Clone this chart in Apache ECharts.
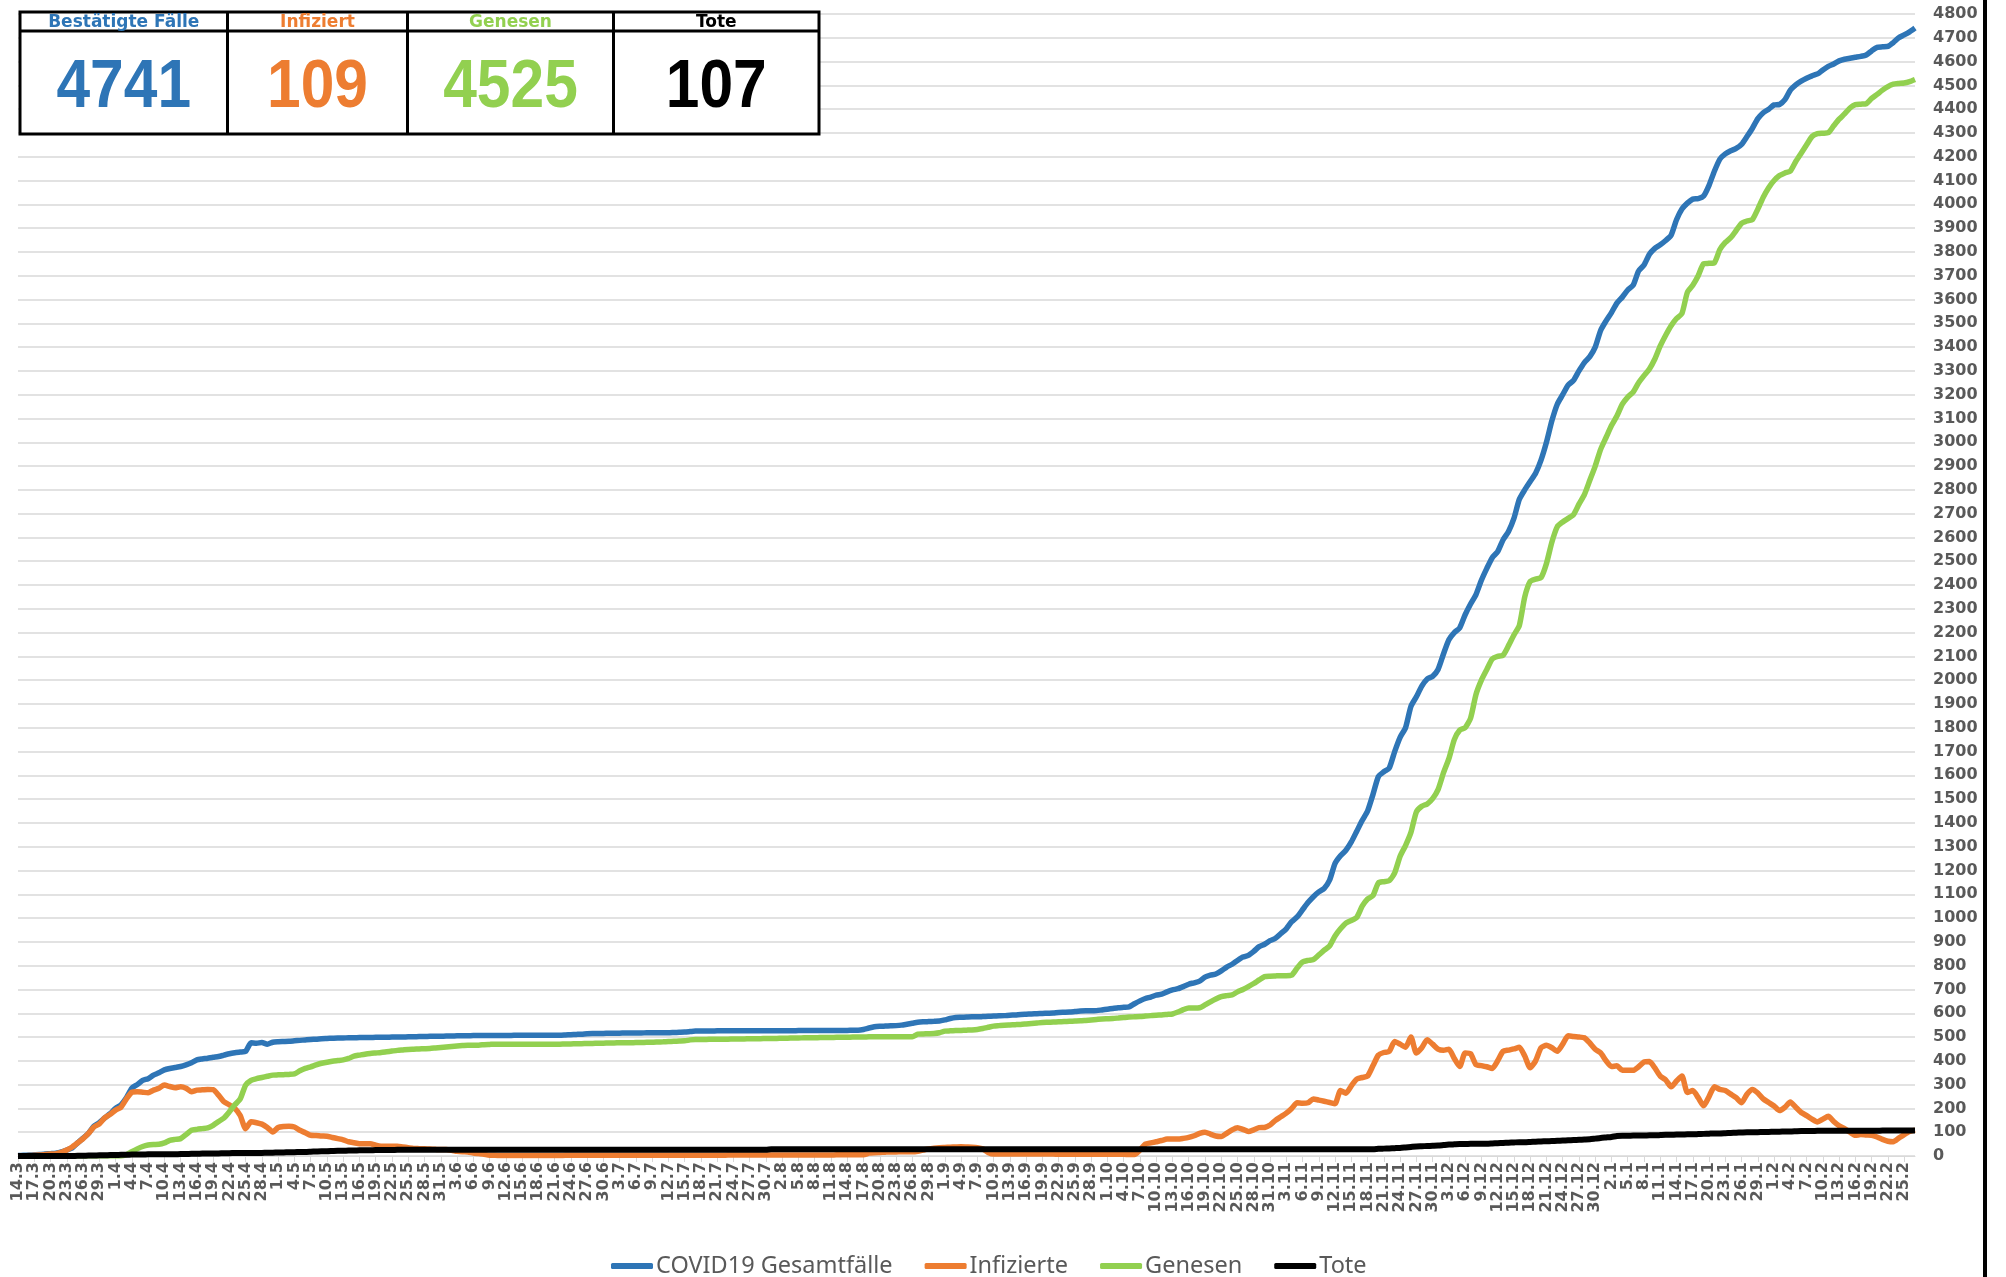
<!DOCTYPE html>
<html>
<head>
<meta charset="utf-8">
<script src="https://cdn.jsdelivr.net/npm/echarts@6/dist/echarts.min.js"></script>
<style>
html,body{margin:0;padding:0;background:#fff;}
#chart{width:2006px;height:1277px;}
</style>
</head>
<body>
<div id="chart"></div>
<script>
// ---- categories (daily from 14.3.2020 to 27.2.2021) ----
const startDate = [2020, 3, 14];
const dayCount = 351;
const categories = [];
(function(){
  const d = new Date(Date.UTC(startDate[0], startDate[1]-1, startDate[2]));
  for (let i = 0; i < dayCount; i++) {
    categories.push(d.getUTCDate() + '.' + (d.getUTCMonth()+1));
    d.setUTCDate(d.getUTCDate()+1);
  }
})();

const seriesNames = ['COVID19 Gesamtfälle', 'Infizierte', 'Genesen', 'Tote'];
const tableHeaders = ['Bestätigte Fälle', 'Infiziert', 'Genesen', 'Tote'];
const tableValues = ['4741', '109', '4525', '107'];

const gesamt = [
2,3,4,5,6,8,10,12,17,25,
34,55,75,95,125,140,160,178,200,215,
245,285,300,318,325,340,350,362,368,372,
376,383,392,404,408,411,415,418,424,430,
434,437,440,476,474,477,470,478,480,481,
482,484,486,488,490,491,493,494,495,496,
496,497,497,498,498,498,499,499,499,500,
500,500,501,501,502,502,503,503,503,504,
504,505,505,505,506,506,506,507,507,507,
507,507,508,508,508,508,508,508,508,508,
508,509,510,511,512,514,515,515,515,516,
516,516,517,517,517,517,518,518,518,518,
518,519,520,521,523,525,525,525,525,526,
526,526,526,526,526,526,526,526,526,526,
526,526,526,526,527,527,527,527,527,527,
527,527,528,528,529,529,532,538,543,545,
546,547,548,550,554,558,562,564,565,566,
567,572,578,582,583,584,585,585,586,587,
588,589,590,592,593,595,596,597,598,599,
600,601,603,604,605,607,609,610,610,611,
614,617,620,623,625,627,640,652,662,668,
676,680,690,698,703,712,722,728,735,752,
760,765,778,794,806,822,836,843,860,880,
890,905,915,935,955,985,1005,1035,1065,1090,
1110,1125,1160,1230,1262,1285,1320,1365,1410,1450,
1520,1595,1615,1631,1700,1760,1800,1890,1930,1975,
2005,2016,2045,2110,2170,2200,2220,2275,2320,2360,
2420,2470,2515,2540,2590,2625,2680,2760,2800,2835,
2870,2925,3000,3090,3160,3200,3240,3260,3300,3335,
3360,3400,3470,3510,3545,3585,3610,3640,3660,3720,
3745,3790,3815,3830,3848,3870,3935,3980,4005,4022,
4024,4035,4080,4140,4190,4212,4225,4235,4252,4285,
4320,4360,4385,4400,4418,4420,4440,4480,4502,4518,
4530,4540,4548,4565,4580,4590,4603,4610,4614,4618,
4622,4628,4645,4660,4662,4664,4680,4700,4712,4725,
4741];

const infizierte = [
0,1,2,3,4,6,8,10,15,25,
38,55,73,95,122,135,160,175,193,205,
240,268,270,268,266,277,285,298,292,287,
291,285,270,277,278,280,279,256,228,215,
200,170,115,144,140,134,120,101,120,124,
125,122,108,98,87,86,84,83,78,73,
68,60,56,52,52,52,45,41,41,41,
41,38,35,32,31,30,29,28,27,27,
24,20,18,17,13,10,7,3,3,2,
2,2,2,2,2,2,2,2,2,2,
2,3,3,3,3,3,3,3,3,3,
3,3,3,3,3,3,3,3,3,3,
3,3,3,3,3,3,3,3,3,3,
3,4,4,4,4,4,4,4,4,4,
4,4,4,4,4,4,4,4,4,4,
4,5,5,5,5,5,5,12,14,15,
16,17,17,18,18,18,20,25,30,33,
35,36,37,38,39,38,37,35,30,15,
8,8,8,8,8,8,8,8,8,8,
8,8,7,7,7,7,7,7,7,7,
7,7,7,7,7,6,6,25,50,55,
60,65,71,71,71,74,78,85,95,100,
92,84,82,95,110,119,112,103,110,119,
120,130,150,165,180,200,224,222,224,240,
235,230,225,220,275,264,295,323,330,336,
380,424,435,440,481,470,457,500,433,455,
489,470,449,444,449,410,376,433,430,384,
380,375,368,400,440,445,450,457,420,371,
400,455,465,455,440,470,505,502,500,497,
475,449,433,400,376,379,360,360,360,375,
395,397,370,336,320,291,315,336,267,275,
245,211,250,291,280,275,260,245,224,260,
280,265,240,225,210,191,205,227,205,183,
170,155,143,155,167,145,127,115,100,87,
90,88,87,80,70,62,60,75,90,103,
109];

const genesen = [
0,0,0,0,0,0,0,0,0,0,
0,0,0,0,0,0,0,0,0,0,
5,18,30,40,46,48,49,55,66,70,
73,90,108,112,115,118,129,145,160,186,
215,240,298,318,325,330,335,340,341,342,
343,345,358,368,375,383,390,394,398,401,
404,410,420,424,428,431,433,435,438,441,
444,446,448,449,450,451,452,454,456,458,
460,462,464,466,466,466,468,469,470,470,
470,470,470,470,470,470,470,470,470,470,
470,471,471,472,472,473,473,474,474,475,
475,476,476,476,477,477,478,478,479,480,
481,482,483,484,488,490,490,490,491,491,
491,491,492,492,492,493,493,493,494,494,
494,495,495,496,496,497,497,497,498,498,
498,499,499,499,500,500,500,501,501,501,
501,501,501,501,501,501,512,513,514,515,
518,525,526,527,528,529,530,532,536,541,
546,548,550,551,552,553,555,557,559,561,
562,563,564,565,566,567,568,570,572,574,
576,577,578,580,582,584,585,586,588,590,
592,593,595,597,605,615,622,622,623,635,
648,660,670,674,677,690,700,712,725,740,
754,756,757,758,758,760,790,815,822,826,
845,865,883,925,955,979,990,1003,1050,1080,
1095,1148,1153,1157,1190,1260,1305,1360,1446,1470,
1480,1502,1540,1610,1670,1750,1790,1800,1840,1940,
2000,2045,2089,2100,2105,2145,2190,2230,2350,2415,
2425,2431,2490,2580,2645,2665,2680,2696,2740,2780,
2840,2900,2970,3020,3070,3110,3160,3190,3211,3250,
3280,3308,3350,3405,3450,3490,3520,3541,3630,3660,
3700,3750,3752,3755,3810,3840,3860,3890,3920,3930,
3936,3980,4030,4070,4100,4121,4132,4140,4180,4215,
4250,4285,4297,4299,4301,4330,4358,4380,4405,4419,
4421,4423,4445,4462,4480,4495,4505,4508,4510,4516,
4525];

const tote = [
0,0,0,0,0,0,0,0,0,0,
0,1,1,2,2,3,3,4,4,5,
5,6,6,6,7,7,7,7,7,7,
8,8,9,9,10,10,11,11,12,12,
13,13,13,13,13,13,14,14,15,15,
16,16,17,17,18,19,20,20,21,22,
22,23,23,24,24,24,25,25,25,25,
26,26,26,26,26,26,26,26,26,26,
26,26,26,26,26,26,26,26,26,26,
26,26,26,26,26,26,26,26,26,26,
26,26,26,26,26,26,26,26,26,26,
26,26,26,26,26,26,26,26,26,26,
26,26,26,26,26,26,26,26,26,26,
26,26,26,26,26,26,26,26,26,28,
28,28,28,28,28,28,28,28,28,28,
28,28,28,28,28,28,28,28,28,28,
28,28,28,28,28,28,28,28,28,28,
28,28,28,28,28,28,28,28,28,28,
28,28,28,28,28,28,28,28,28,28,
28,28,28,28,28,28,28,28,28,28,
28,28,28,28,28,28,28,28,28,28,
28,28,28,28,28,28,28,28,28,28,
28,28,28,28,28,28,28,28,28,28,
28,28,28,28,28,28,28,28,28,28,
28,28,28,28,28,28,28,28,28,28,
28,30,31,32,33,34,36,38,40,41,
42,43,44,46,48,49,50,50,51,51,
52,52,53,54,55,56,57,58,58,59,
60,61,62,63,64,65,66,67,68,69,
70,73,76,78,80,84,85,85,86,86,
86,87,87,88,89,89,90,90,91,91,
92,93,94,95,95,96,97,98,99,100,
100,100,101,101,102,102,103,103,104,105,
105,105,106,106,106,106,106,106,106,106,
106,106,106,106,107,107,107,107,107,107,
107];

const colors = ['#2E75B6', '#ED7D31', '#92D050', '#000000'];
const yMin = 0, yMax = 4800, yStep = 100;

// ---- table graphic ----
const tbl = {left: 20, top: 12, right: 819, bottom: 134, headBottom: 31, cols: [20, 227.5, 407.5, 613.5, 819]};
const graphics = [];
graphics.push({type:'rect', shape:{x:tbl.left, y:tbl.top, width:tbl.right-tbl.left, height:tbl.bottom-tbl.top},
  style:{fill:'#fff', stroke:'#000', lineWidth:3}, z:100});
graphics.push({type:'line', shape:{x1:tbl.left, y1:tbl.headBottom, x2:tbl.right, y2:tbl.headBottom},
  style:{stroke:'#000', lineWidth:3}, z:101});
for (let k = 1; k < 4; k++) {
  graphics.push({type:'line', shape:{x1:tbl.cols[k], y1:tbl.top, x2:tbl.cols[k], y2:tbl.bottom},
    style:{stroke:'#000', lineWidth:3}, z:101});
}
for (let k = 0; k < 4; k++) {
  const cx = (tbl.cols[k] + tbl.cols[k+1]) / 2;
  graphics.push({type:'text', x:cx, y:(tbl.top+tbl.headBottom)/2 + 1, z:102,
    style:{text:tableHeaders[k], x:0, y:0, textAlign:'center', textVerticalAlign:'middle',
      font:'bold 17px "DejaVu Sans"', fill: colors[k]}});
  graphics.push({type:'text', x:cx, y:88, scaleX:0.89, z:102,
    style:{text:tableValues[k], x:0, y:0, textAlign:'center', textVerticalAlign:'middle',
      font:'bold 68px "Liberation Sans"', fill: colors[k]}});
}
// right border line
graphics.push({type:'rect', shape:{x:1983, y:0, width:4, height:1277}, style:{fill:'#000'}, z:50});

const chart = echarts.init(document.getElementById('chart'));
chart.setOption({
  animation: false,
  backgroundColor: '#fff',
  color: colors,
  grid: {left: 18, right: 91, top: 14, bottom: 121, containLabel: false},
  legend: {
    data: seriesNames,
    left: 606, top: 1249,
    itemWidth: 42, itemHeight: 6, itemGap: 32,
    icon: 'roundRect',
    textStyle: {fontFamily: 'Noto Sans', fontSize: 23.5, color: '#595959', padding:[0,0,0,-2]}
  },
  xAxis: {
    type: 'category',
    data: categories,
    boundaryGap: false,
    axisLine: {show: true, lineStyle: {color: '#d9d9d9', width: 1}},
    axisTick: {show: true, interval: 2, length: 6, lineStyle: {color: '#d9d9d9'}},
    axisLabel: {interval: 2, rotate: 90, margin: 6, color: '#595959',
      fontFamily: 'DejaVu Sans', fontWeight: 'bold', fontSize: 16},
    splitLine: {show: false}
  },
  yAxis: {
    type: 'value',
    position: 'right',
    min: yMin, max: yMax, interval: yStep,
    axisLine: {show: false},
    axisTick: {show: false},
    axisLabel: {margin: 18, color: '#595959', fontFamily: 'DejaVu Sans', fontWeight: 'bold', fontSize: 16,
      formatter: function (v) { return String(v); }},
    splitLine: {show: true, lineStyle: {color: '#d9d9d9', width: 1.5}}
  },
  series: [
    {name: seriesNames[0], type: 'line', data: gesamt, showSymbol: false, smooth: 0.2,
      lineStyle: {width: 5.5, color: colors[0]}, z: 2},
    {name: seriesNames[1], type: 'line', data: infizierte, showSymbol: false, smooth: 0.2,
      lineStyle: {width: 5.5, color: colors[1]}, z: 3},
    {name: seriesNames[2], type: 'line', data: genesen, showSymbol: false, smooth: 0.2,
      lineStyle: {width: 5.5, color: colors[2]}, z: 4},
    {name: seriesNames[3], type: 'line', data: tote, showSymbol: false, smooth: 0.2,
      lineStyle: {width: 6, color: colors[3]}, z: 5}
  ],
  graphic: graphics
});
</script>
</body>
</html>
